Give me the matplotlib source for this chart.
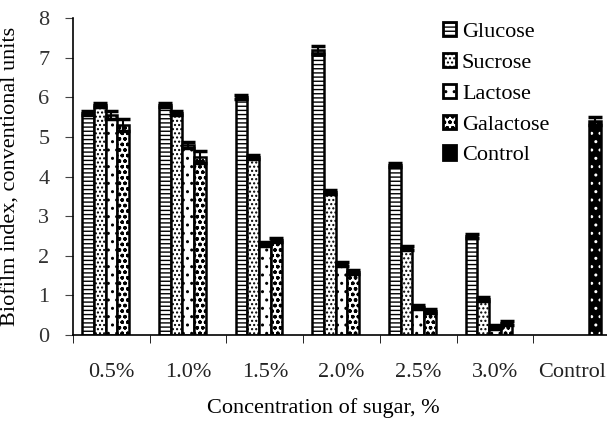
import numpy as np
import matplotlib.pyplot as plt

plt.rcParams['font.family'] = 'Liberation Serif'
plt.rcParams['hatch.linewidth'] = 1.0

groups = ['0.5%', '1.0%', '1.5%', '2.0%', '2.5%', '3.0%', 'Control']
glucose = [5.6, 5.8, 6.0, 7.2, 4.3, 2.5, 0]
sucrose = [5.8, 5.6, 4.5, 3.6, 2.2, 0.9, 0]
lactose = [5.55, 4.8, 2.3, 1.8, 0.7, 0.2, 0]
galactose = [5.3, 4.5, 2.4, 1.6, 0.6, 0.3, 0]
control = [0, 0, 0, 0, 0, 0, 5.4]
err_glucose = [0.05, 0.05, 0.05, 0.1, 0.05, 0.05, 0]
err_sucrose = [0.05, 0.05, 0.05, 0.05, 0.05, 0.05, 0]
err_lactose = [0.1, 0.08, 0.05, 0.05, 0.05, 0.05, 0]
err_galactose = [0.15, 0.15, 0.05, 0.05, 0.05, 0.05, 0]
err_control = [0, 0, 0, 0, 0, 0, 0.1]

series = [('Glucose', glucose, err_glucose, 'white', '----'),
          ('Sucrose', sucrose, err_sucrose, 'white', '....'),
          ('Lactose', lactose, err_lactose, 'white', '..'),
          ('Galactose', galactose, err_galactose, 'white', 'ooo'),
          ('Control', control, err_control, 'black', '..')]

fig = plt.figure(figsize=(6.07, 4.21), dpi=100)
ax = fig.add_axes([0.1203, 0.204, 0.8847, 0.753])

x = np.arange(len(groups))
w = 0.152
for j, (name, vals, errs, fc, hatch) in enumerate(series):
    vals = np.array(vals)
    errs = np.array(errs)
    mask = vals > 0
    pos = x[mask] + (j - 2) * w
    ec = 'white' if fc == 'black' else 'black'
    ax.bar(pos, vals[mask], w, color=fc, hatch=hatch, edgecolor=ec,
           linewidth=0, label=name)
    ax.bar(pos, vals[mask], w, color='none', edgecolor='black', linewidth=1.8)
    ax.errorbar(pos, vals[mask], yerr=errs[mask], fmt='none', ecolor='black',
                elinewidth=1.5, capsize=5, capthick=2.5)

ax.set_xlim(-0.5, len(groups) - 0.5)
ax.set_ylim(0, 8)
ax.set_yticks(range(9))
ax.set_xticks(x)
ax.set_xticklabels(groups)
ax.set_xticks(np.arange(-0.5, len(groups) - 0.4, 1), minor=True)
ax.tick_params(axis='x', which='major', length=0, pad=20, labelsize=16,
               labelcolor='#222222')
ax.tick_params(axis='x', which='minor', length=6, direction='out', color='black')
ax.tick_params(axis='y', labelsize=16, length=6, pad=11, direction='out',
               color='#444444', labelcolor='#333333')
ax.spines['top'].set_visible(False)
ax.spines['right'].set_visible(False)
ax.spines['left'].set_linewidth(1.2)
ax.spines['bottom'].set_linewidth(1.2)
ax.set_ylabel('Biofilm index, conventional units', fontsize=16)
ax.yaxis.set_label_coords(-0.097, 0.5)
ax.set_xlabel('Concentration of sugar, %', fontsize=16)
ax.xaxis.set_label_coords(0.467, -0.2)

leg = ax.legend(loc='upper left', bbox_to_anchor=(0.730, 0.947),
                bbox_transform=fig.transFigure, frameon=False,
                fontsize=16, handlelength=0.6, handleheight=0.6,
                handletextpad=0.25, labelspacing=0.49, borderpad=0,
                borderaxespad=0)
for h in leg.legend_handles:
    h.set_edgecolor('black')
    h.set_linewidth(2)

fig.savefig('out.png', dpi=100)
